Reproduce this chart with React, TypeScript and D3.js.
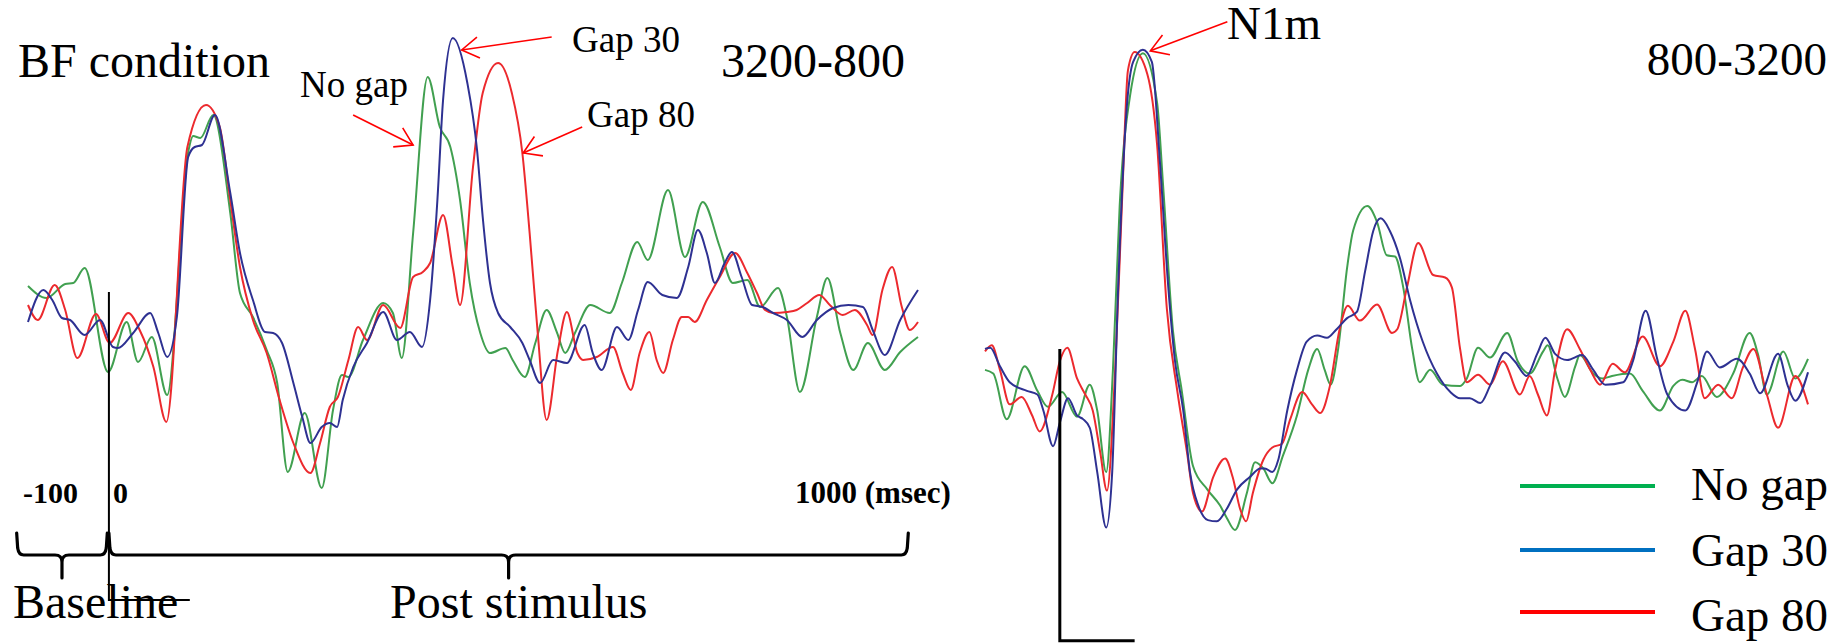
import React, { useEffect, useRef } from 'react'
import * as d3 from 'd3'

type Pt = [number, number]

// [time (ms), amplitude]
const leftNoGap: Pt[] = [
  [-100, 34], [-77, 22], [-54, 36], [-44, 37], [-30, 52], [-1, -52], [22, -2], [36, -42], [53, -17], [72, -75],
  [98, 168], [104, 184], [113, 182], [129, 205], [150, 107], [162, 27], [178, 3], [195, -30], [208, -63], [221, -152],
  [242, -93], [263, -168], [277, -90], [288, -55], [296, -57], [314, -20], [339, 17], [351, 7], [362, -38], [376, 87],
  [394, 243], [409, 193], [422, 173], [434, 120], [446, 37], [459, -13], [471, -33], [490, -28], [499, -40], [514, -57],
  [527, -23], [541, 10], [554, -13], [564, -33], [576, -13], [595, 15], [619, 7], [634, 37], [653, 78], [666, 60],
  [691, 130], [712, 63], [734, 118], [755, 73], [771, 37], [789, 40], [805, 13], [827, 32], [838, 3], [854, -72],
  [875, 3], [888, 42], [904, -13], [920, -50], [938, -23], [959, -50], [978, -32], [1000, -17],
]
const leftGap30: Pt[] = [
  [-100, -2], [-81, 30], [-70, 20], [-58, 2], [-48, 0], [-30, -15], [-11, 0], [5, -27], [11, -28], [30, -13],
  [51, 7], [61, -13], [72, -37], [84, 3], [98, 163], [106, 173], [115, 175], [131, 205], [150, 127], [162, 67],
  [178, 20], [193, -12], [203, -13], [214, -23], [228, -63], [239, -97], [249, -123], [263, -107], [273, -103], [282, -107],
  [289, -80], [302, -47], [319, -23], [339, 8], [356, -20], [372, -12], [387, -27], [397, 20], [406, 120], [413, 220],
  [425, 282], [443, 237], [455, 170], [462, 103], [471, 37], [481, 7], [496, -7], [511, -23], [520, -40], [533, -63],
  [549, -40], [566, -43], [588, -5], [598, -33], [609, -50], [628, -7], [642, -20], [654, 10], [666, 38], [684, 25],
  [702, 22], [716, 53], [728, 90], [739, 67], [749, 37], [761, 57], [770, 68], [782, 43], [795, 15], [808, 13],
  [821, 7], [838, 0], [857, -17], [875, 0], [895, 12], [914, 15], [932, 13], [944, -10], [959, -35], [978, 0], [1000, 30],
]
const leftGap80: Pt[] = [
  [-100, 15], [-88, 0], [-67, 35], [-54, 10], [-39, -38], [-16, 6], [1, -23], [24, 7], [38, -10], [55, -47],
  [71, -102], [97, 173], [120, 215], [137, 193], [150, 120], [162, 53], [178, 0], [195, -33], [211, -80], [228, -123],
  [249, -153], [261, -123], [273, -87], [283, -77], [296, -40], [308, -7], [319, -20], [339, 15], [360, -8], [376, 43],
  [388, 48], [397, 57], [413, 105], [425, 53], [434, 15], [450, 153], [462, 227], [481, 257], [498, 227], [511, 167],
  [520, 87], [530, -13], [541, -100], [555, -30], [566, 8], [579, -33], [586, -40], [603, -37], [623, -27], [635, -53],
  [645, -70], [656, -33], [668, -12], [677, -40], [685, -53], [697, -20], [708, 3], [716, 3], [724, -2], [739, 20],
  [755, 43], [774, 67], [789, 47], [801, 27], [811, 10], [821, 7], [838, 8], [850, 10], [863, 17], [878, 25],
  [891, 15], [907, 5], [922, 10], [937, -5], [944, -15], [956, 30], [968, 53], [980, 13], [990, -10], [1000, -2],
]

// 800-3200 panel
const rightNoGap: Pt[] = [
  [-100, 20], [-89, 17], [-71, -20], [-47, 23], [-30, 3], [-16, -10], [3, 2], [23, -18], [40, 8], [50, -13],
  [62, -63], [71, 20], [80, 153], [94, 243], [111, 277], [130, 237], [138, 170], [151, 53], [163, 3], [178, -58],
  [197, -77], [214, -90], [223, -100], [234, -110], [250, -80], [261, -55], [272, -60], [284, -72], [298, -50], [317, -17],
  [332, 20], [344, 37], [354, 20], [362, 8], [372, 37], [384, 103], [392, 133], [411, 153], [424, 140], [437, 113],
  [448, 112], [459, 87], [471, 37], [481, 10], [495, 20], [512, 8], [535, 7], [544, 13], [559, 38], [575, 30],
  [598, 50], [612, 27], [628, 17], [646, 35], [652, 40], [665, 13], [675, -2], [689, 23], [695, 32], [713, 17],
  [725, 13], [738, 15], [762, 17], [779, 3], [802, -13], [820, 7], [832, 12], [845, 10], [858, 15], [878, -2],
  [900, 17], [922, 50], [933, 33], [945, 0], [967, 35], [983, 13], [1000, 29],
]
const rightGap30: Pt[] = [
  [-100, 37], [-93, 38], [-80, 23], [-67, 10], [-44, 3], [-30, 0], [-22, -13], [-9, -42], [0, -23], [11, -3],
  [23, -17], [31, -20], [40, -27], [50, -63], [62, -108], [70, -63], [78, 87], [90, 237], [98, 270], [111, 280],
  [123, 270], [134, 187], [145, 87], [154, 27], [165, -13], [174, -63], [185, -90], [198, -102], [210, -103], [223, -93],
  [237, -77], [254, -67], [268, -60], [274, -60], [284, -63], [292, -53], [304, -13], [317, 20], [330, 43], [344, 48],
  [357, 46], [370, 53], [384, 62], [397, 67], [408, 100], [419, 133], [429, 143], [441, 133], [455, 110], [468, 77],
  [485, 43], [504, 17], [522, 2], [535, -3], [548, -3], [562, -7], [575, 7], [595, 34], [608, 27], [624, 15],
  [638, 33], [649, 46], [662, 33], [678, 28], [698, 32], [713, 20], [729, 8], [753, 10], [766, 27], [783, 68],
  [798, 30], [812, 0], [836, -13], [852, 10], [865, 35], [882, 22], [905, 29], [922, 17], [936, 1], [960, 33],
  [973, 7], [983, -5], [1000, 18],
]
const rightGap80: Pt[] = [
  [-100, 35], [-91, 40], [-80, 20], [-67, -8], [-51, -2], [-37, -17], [-27, -30], [-10, 0], [0, 27], [10, 38],
  [23, 13], [34, 0], [44, -13], [54, -47], [63, -78], [74, 20], [84, 170], [91, 263], [100, 278], [117, 260],
  [130, 203], [143, 70], [157, 3], [170, -47], [178, -80], [190, -95], [205, -67], [221, -52], [231, -67], [241, -93],
  [249, -103], [258, -80], [272, -53], [284, -43], [297, -40], [308, -20], [324, 2], [337, -8], [348, -15], [361, 7],
  [374, 53], [385, 72], [401, 60], [424, 73], [444, 50], [451, 53], [464, 87], [479, 123], [499, 97], [515, 95],
  [524, 87], [535, 37], [544, 10], [559, 16], [575, 8], [592, 27], [615, 0], [628, 15], [639, 0], [651, -17],
  [662, 20], [678, 53], [695, 37], [709, 20], [722, 8], [739, 25], [755, 18], [779, 47], [802, 23], [820, 43],
  [836, 68], [849, 37], [862, -3], [880, 8], [898, -3], [913, 22], [927, 37], [945, 0], [960, -27], [983, 15], [1000, -8],
]

const seriesNames = ['No gap', 'Gap 30', 'Gap 80']
const traceColors = ['#41a050', '#2e3192', '#ec2a2e']
const legendColors = ['#00b050', '#0070c0', '#ff0000']
const drawOrder = [0, 2, 1]

const timeLabels = ['-100', '0', '1000 (msec)']
const periodNames = ['Baseline', 'Post stimulus']
const periodRanges: Pt[] = [[-114, -2], [0, 988]]

// scale bars: [t0, t1] and [a0, a1]
const leftBarTime: Pt = [0, 100]
const leftBarAmp: Pt = [28, -280]
const rightBarTime: Pt = [0, 100]
const rightBarAmp: Pt = [37, -200]

// arrow tips (data units) for the peak labels
const leftPeakTips: Pt[] = [[376, 175], [436, 270], [512, 167]]
const rightPeakTip: Pt = [121, 279]

const W = 1839
const H = 644
const FONT = 'Liberation Serif, Times New Roman, DejaVu Serif, serif'

const App: React.FC = () => {
  const svgRef = useRef<SVGSVGElement>(null)

  useEffect(() => {
    const svg = d3.select(svgRef.current).attr('width', W).attr('height', H)
    svg.selectAll('*').remove()

    const xLeft = d3.scaleLinear([-100, 1000], [28, 918])
    const yLeft = d3.scaleLinear([-300, 300], [620, 20])
    const xRight = d3.scaleLinear([-100, 1000], [985, 1808])
    const yRight = d3.scaleLinear([-300, 300], [764, 25])

    const text = (s: string, x: number, y: number, size: number, opts: any = {}) => {
      const t = svg.append('text').text(s).attr('x', x).attr('y', y)
        .style('font-family', FONT).style('font-size', size + 'px').attr('fill', '#000')
      if (opts.bold) t.style('font-weight', 'bold')
      if (opts.anchor) t.attr('text-anchor', opts.anchor)
      return t
    }

    const arrow = (tip: [number, number], dx: number, dy: number) => {
      const [x1, y1] = tip
      const x0 = x1 + dx
      const y0 = y1 + dy
      const ang = Math.atan2(y0 - y1, x0 - x1)
      const L = 20
      const th = (32 * Math.PI) / 180
      const g = svg.append('g').attr('stroke', '#ff0000').attr('stroke-width', 1.6).attr('fill', 'none')
      g.append('line').attr('x1', x0).attr('y1', y0).attr('x2', x1).attr('y2', y1)
      g.append('path').attr('d',
        `M${x1 + L * Math.cos(ang + th)},${y1 + L * Math.sin(ang + th)}L${x1},${y1}L${x1 + L * Math.cos(ang - th)},${y1 + L * Math.sin(ang - th)}`)
    }

    const drawTraces = (data: Pt[][], x: d3.ScaleLinear<number, number>, y: d3.ScaleLinear<number, number>) => {
      const line = d3.line<Pt>().x(d => x(d[0])).y(d => y(d[1])).curve(d3.curveMonotoneX)
      svg.append('g').selectAll('path')
        .data(drawOrder)
        .enter()
        .append('path')
        .attr('d', i => line(data[i]))
        .attr('fill', 'none')
        .attr('stroke', i => traceColors[i])
        .attr('stroke-width', 2)
        .attr('stroke-linejoin', 'round')
    }

    // ---- left panel
    drawTraces([leftNoGap, leftGap30, leftGap80], xLeft, yLeft)

    // stimulus onset / scale bar
    svg.append('path')
      .attr('d', `M${xLeft(leftBarTime[0])},${yLeft(leftBarAmp[0])}V${yLeft(leftBarAmp[1])}H${xLeft(leftBarTime[1])}`)
      .attr('fill', 'none').attr('stroke', '#000').attr('stroke-width', 2)

    text('BF condition', 18, 77, 48)
    text('3200-800', 905, 77, 48, { anchor: 'end' })
    text('No gap', 300, 97, 37)
    text('Gap 30', 572, 52, 37)
    text('Gap 80', 587, 127, 37)

    const tipOffsets: Pt[] = [[-60, -30], [90, -13], [59, -26]]
    leftPeakTips.forEach((p, i) => arrow([xLeft(p[0]), yLeft(p[1])], tipOffsets[i][0], tipOffsets[i][1]))

    // time labels
    const labelX = [23, 113, 795]
    timeLabels.forEach((s, i) => text(s, labelX[i], 503, i === 2 ? 31 : 30, { bold: true }))

    // braces
    const top = 533, bar = 555, tip = 578, r = 7
    periodRanges.forEach(([a, b]) => {
      const x0 = xLeft(a), x1 = xLeft(b), xm = (x0 + x1) / 2
      const d = `M${x0},${top}L${x0 + 1},${bar - r}Q${x0 + 2},${bar} ${x0 + r},${bar}` +
        `L${xm - r},${bar}Q${xm},${bar} ${xm},${bar + r}L${xm},${tip}` +
        `M${xm},${bar + r}Q${xm},${bar} ${xm + r},${bar}` +
        `L${x1 - r},${bar}Q${x1 - 2},${bar} ${x1 - 1},${bar - r}L${x1},${top}`
      svg.append('path').attr('d', d).attr('fill', 'none').attr('stroke', '#000')
        .attr('stroke-width', 3.2).attr('stroke-linecap', 'round')
    })
    text(periodNames[0], 13, 618, 48)
    text(periodNames[1], 390, 618, 48)

    // ---- right panel
    drawTraces([rightNoGap, rightGap30, rightGap80], xRight, yRight)

    svg.append('path')
      .attr('d', `M${xRight(rightBarTime[0])},${yRight(rightBarAmp[0])}V${yRight(rightBarAmp[1])}H${xRight(rightBarTime[1])}`)
      .attr('fill', 'none').attr('stroke', '#000').attr('stroke-width', 3)

    text('N1m', 1227, 39, 47)
    arrow([xRight(rightPeakTip[0]), yRight(rightPeakTip[1])], 77, -29)
    text('800-3200', 1827, 75, 47, { anchor: 'end' })

    // legend
    const lineY = [486, 550, 612]
    const textY = [500, 566, 631]
    seriesNames.forEach((name, i) => {
      svg.append('line').attr('x1', 1520).attr('x2', 1655).attr('y1', lineY[i]).attr('y2', lineY[i])
        .attr('stroke', legendColors[i]).attr('stroke-width', 4)
      text(name, 1691, textY[i], 47)
    })
  }, [])

  return (
    <div style={{ position: 'absolute', left: 0, top: 0, width: W, height: H, overflow: 'hidden', background: '#fff' }}>
      <svg ref={svgRef} style={{ display: 'block', fontFamily: FONT }} />
    </div>
  )
}

export default App
